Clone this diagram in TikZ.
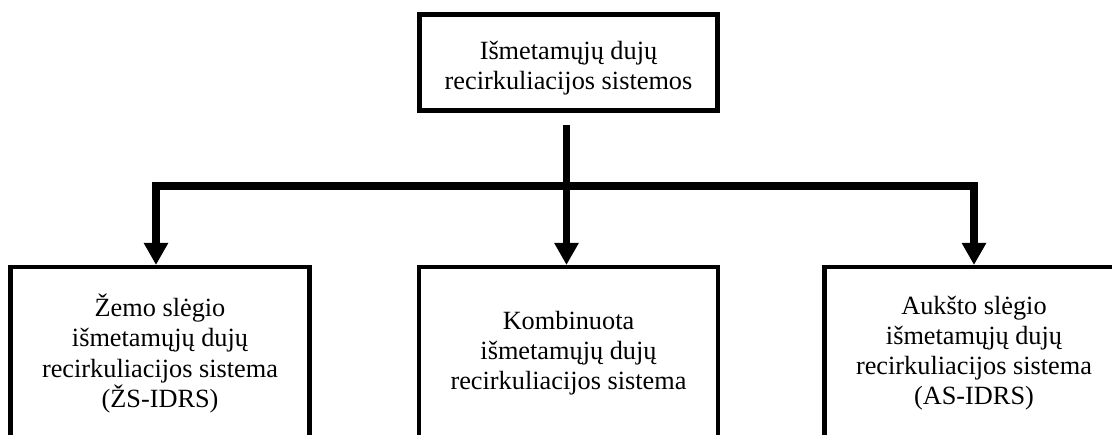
\documentclass[tikz,border=0pt]{standalone}
\usepackage{fontspec}
\setmainfont{Liberation Serif}
\usetikzlibrary{arrows.meta}

\tikzset{
  boxtext/.style={align=center, inner sep=0pt, outer sep=0pt,
    font=\fontsize{26.3}{30.1}\selectfont},
  headbox/.style={draw, line width=5pt, inner sep=0pt, outer sep=0pt,
    minimum width=298, minimum height=96},
  leafbox/.style={boxtext, minimum width=299, minimum height=173},
  frame/.style={line width=4.5pt, line join=miter},
  conn/.style={line width=7.8pt, line join=miter},
  tip/.style={-{Triangle[width=23pt,length=22pt]}}
}

\begin{document}
\begin{tikzpicture}[x=1pt,y=-1pt]
  \useasboundingbox (0,0) rectangle (1112,435);
  \clip (0,0) rectangle (1112,435);

  % top level: frame and its title
  \node[headbox] (top) at (568.5,62.5) {};
  \node[boxtext] (toptitle) at ([yshift=-5.5pt]top.center)
    {Išmetamųjų dujų\\recirkuliacijos sistemos};

  % three system types
  \node[leafbox] (low) at (160,353.5)
    {Žemo slėgio\\išmetamųjų dujų\\recirkuliacijos sistema\\(ŽS-IDRS)};
  \node[leafbox] (comb) at (568.5,353.5)
    {Kombinuota\\išmetamųjų dujų\\recirkuliacijos sistema};
  \node[leafbox] (high) at (974,353.5)
    {Aukšto slėgio\\išmetamųjų dujų\\recirkuliacijos sistema\\(AS-IDRS)};

  % open-bottom frames of the lower boxes
  \foreach \b in {low,comb,high}{
    \draw[frame] ([yshift=-30pt]\b.south west) -- (\b.north west)
      -- (\b.north east) -- ([yshift=-30pt]\b.south east);
  }

  % trunk and branches
  \coordinate (trunk) at ([xshift=-2pt,yshift=-15pt]top.south);
  \coordinate (bus) at (566.5,186);
  \draw[conn,tip] (trunk) -- ([xshift=-2pt,yshift=2pt]comb.north);
  \draw[conn,tip] (bus) -| ([xshift=-4pt,yshift=2pt]low.north);
  \draw[conn,tip] (bus) -| ([yshift=2pt]high.north);
\end{tikzpicture}
\end{document}
